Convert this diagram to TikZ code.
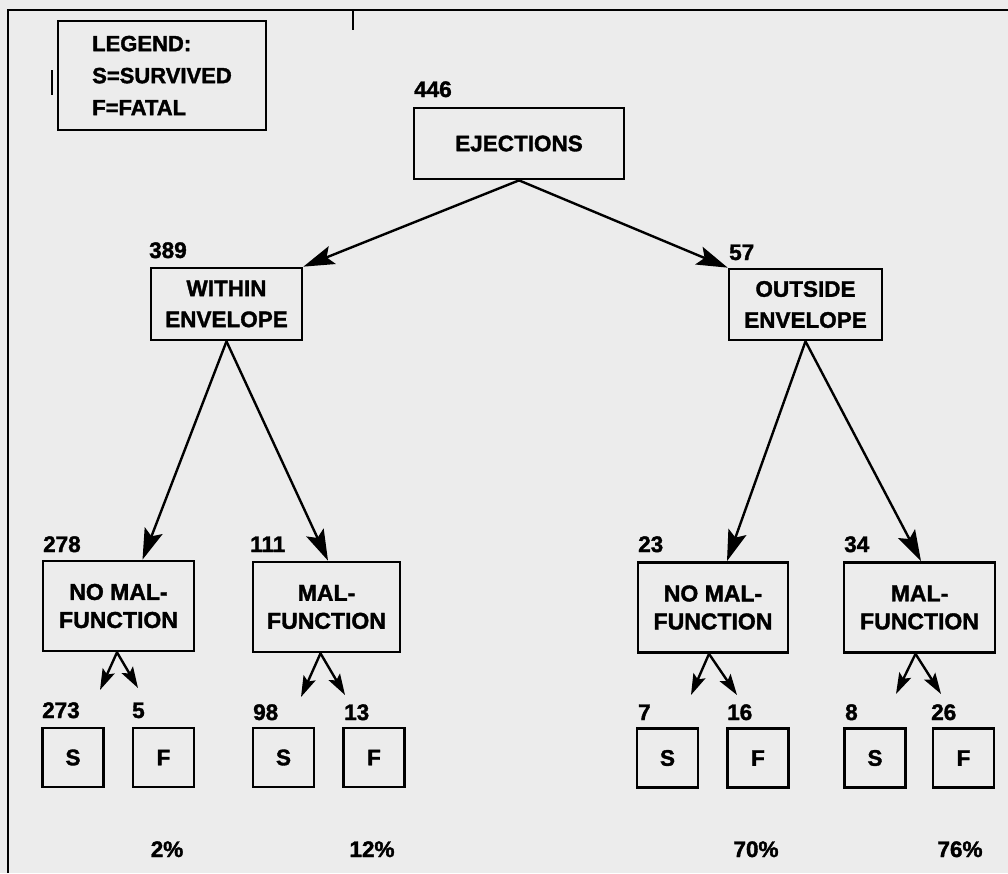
\documentclass[tikz,border=0pt]{standalone}
\usepackage{fontspec}
\setmainfont{Liberation Sans}[BoldFeatures={FakeBold=1.6}]
\usetikzlibrary{arrows.meta}
\definecolor{paper}{RGB}{236,236,236}
\begin{document}
\begin{tikzpicture}[x=1pt,y=-1pt,
  box/.style={draw, line width=2.7pt, inner sep=0pt, align=center,
    font=\bfseries\fontsize{22.5}{31}\selectfont},
  lowbox/.style={box, minimum height=90pt, font=\bfseries\fontsize{23}{28}\selectfont},
  sfbox/.style={box, minimum width=61pt, minimum height=59pt},
  num/.style={inner sep=0pt, anchor=base west, font=\bfseries\fontsize{22.5}{26}\selectfont},
  pct/.style={inner sep=0pt, anchor=base, font=\bfseries\fontsize{22.5}{26}\selectfont},
  big/.style={line width=2.4pt, -{Stealth[length=31pt,width=19pt,inset=6pt]}},
  small/.style={line width=2.4pt, -{Stealth[length=21pt,width=13pt,inset=4pt]}},
  frame/.style={line width=2.8pt}]
\fill[paper] (0,0) rectangle (1008,873);
\useasboundingbox (0,0) rectangle (1008,873);
% frame and marks
\draw[frame] (8,873) -- (8,10) -- (1008,10);
\draw[line width=1.5pt] (353,10) -- (353,30);
\draw[line width=1.2pt] (52,70) -- (52,95);
% legend
\node[box, minimum width=208pt, minimum height=109pt, align=left,
  font=\bfseries\fontsize{22}{32}\selectfont] (legend) at (162,75.5)
  {LEGEND:\\S=SURVIVED\\F=FATAL};
% top levels
\node[box, minimum width=210pt, minimum height=71pt] (ej) at (519,143.5) {EJECTIONS};
\node[num] (n446) at (414,97) {446};
\node[box, minimum width=151pt, minimum height=72pt] (win) at (226.5,304) {WITHIN\\ENVELOPE};
\node[box, minimum width=153pt, minimum height=71pt] (wout) at (805.5,304.5) {OUTSIDE\\ENVELOPE};
\node[num] (n389) at (149,258) {389};
\node[num] (n57) at (729,260) {57};
% malfunction level
\node[lowbox, minimum width=151pt] (nmL) at (118.5,606) {NO MAL-\\FUNCTION};
\node[lowbox, minimum width=147pt] (mL) at (326.5,607) {MAL-\\FUNCTION};
\node[lowbox, minimum width=150pt] (nmR) at (713,607.5) {NO MAL-\\FUNCTION};
\node[lowbox, minimum width=151pt] (mR) at (919.5,607.5) {MAL-\\FUNCTION};
\node[num] (n278) at (43,552) {278};
\node[num] (n111) at (250,552) {111};
\node[num] (n23) at (638,552) {23};
\node[num] (n34) at (844,552) {34};
% outcome boxes
\node[sfbox] (sA) at (73,757.5) {S};
\node[sfbox] (fA) at (163.5,757.5) {F};
\node[sfbox] (sB) at (283.5,757.5) {S};
\node[sfbox] (fB) at (374,757.5) {F};
\node[sfbox] (sC) at (667.5,758) {S};
\node[sfbox] (fC) at (758,758) {F};
\node[sfbox] (sD) at (875,758) {S};
\node[sfbox] (fD) at (963.5,758) {F};
\node[num] (n273) at (42,718) {273};
\node[num] (n5) at (132,718) {5};
\node[num] (n98) at (253,720) {98};
\node[num] (n13) at (344,720) {13};
\node[num] (n7) at (638,720) {7};
\node[num] (n16) at (727,720) {16};
\node[num] (n8) at (845,720) {8};
\node[num] (n26) at (931,720) {26};
% percentages
\node[pct] (p1) at (167,857) {2\%};
\node[pct] (p2) at (372,857) {12\%};
\node[pct] (p3) at (756,857) {70\%};
\node[pct] (p4) at (960,857) {76\%};
% big arrows
\draw[big] (ej.south) -- (win.north east);
\draw[big] (ej.south) -- (wout.north west);
\draw[big] (win.south) -- ([xshift=24pt]nmL.north);
\draw[big] (win.south) -- ([xshift=1.5pt]mL.north);
\draw[big] (wout.south) -- ([xshift=14pt]nmR.north);
\draw[big] (wout.south) -- ([xshift=1.5pt]mR.north);
% small arrows
\coordinate (tA1) at (100,690); \coordinate (tA2) at (138,688);
\coordinate (tB1) at (301,697); \coordinate (tB2) at (345,695);
\coordinate (tC1) at (691,695); \coordinate (tC2) at (737,695);
\coordinate (tD1) at (896,694); \coordinate (tD2) at (941,694);
\draw[small] ([xshift=-1.5pt]nmL.south) -- (tA1);
\draw[small] ([xshift=-1.5pt]nmL.south) -- (tA2);
\draw[small] ([xshift=-6pt]mL.south) -- (tB1);
\draw[small] ([xshift=-6pt]mL.south) -- (tB2);
\draw[small] ([xshift=-4pt]nmR.south) -- (tC1);
\draw[small] ([xshift=-4pt]nmR.south) -- (tC2);
\draw[small] ([xshift=-4pt]mR.south) -- (tD1);
\draw[small] ([xshift=-4pt]mR.south) -- (tD2);
\end{tikzpicture}
\end{document}
